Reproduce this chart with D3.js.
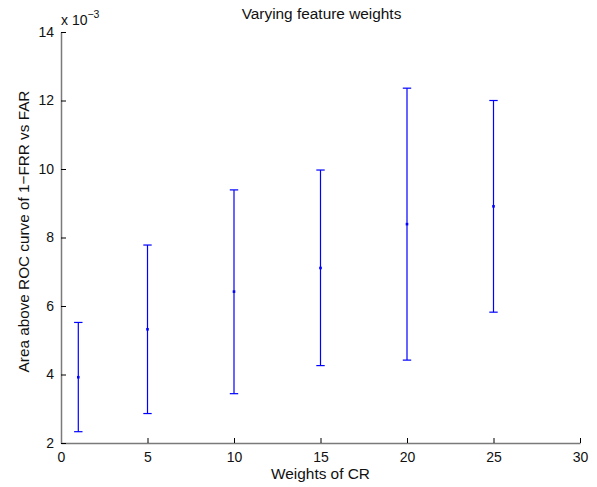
<!DOCTYPE html>
<html>
<head>
<meta charset="utf-8">
<script src="https://cdn.jsdelivr.net/npm/d3@7"></script>
<style>
  body { margin: 0; background: #fff; }
  svg { display: block; font-family: "Liberation Sans", Arial, sans-serif; }
</style>
</head>
<body>
<svg id="chart"></svg>
<script>
// values are in units of 1e-3
const weights = [1, 5, 10, 15, 20, 25];
const means   = [3.92, 5.32, 6.42, 7.11, 8.39, 8.91];
const upper   = [5.52, 7.78, 9.39, 9.97, 12.36, 12.00];
const lower   = [2.33, 2.86, 3.44, 4.26, 4.42, 5.82];
const xTicks  = [0, 5, 10, 15, 20, 25, 30];
const yTicks  = [2, 4, 6, 8, 10, 12, 14];

const width = 597, height = 487;
const margin = {top: 32, right: 17, bottom: 44, left: 61};

const svg = d3.select("#chart")
  .attr("width", width)
  .attr("height", height);

const x = d3.scaleLinear().domain([0, 30]).range([margin.left, width - margin.right]);
const y = d3.scaleLinear().domain([2, 14]).range([height - margin.bottom, margin.top]);

// axes (MATLAB style, ticks pointing inward)
const xAxis = svg.append("g")
  .attr("transform", `translate(0,${height - margin.bottom})`)
  .call(d3.axisBottom(x).tickValues(xTicks).tickSizeInner(-5).tickSizeOuter(0).tickPadding(9));
const yAxis = svg.append("g")
  .attr("transform", `translate(${margin.left},0)`)
  .call(d3.axisLeft(y).tickValues(yTicks).tickSizeInner(-5).tickSizeOuter(0).tickPadding(7));

[xAxis, yAxis].forEach(g => {
  g.select(".domain").attr("stroke", "#7a7a7a").attr("stroke-width", 1.5);
  g.selectAll(".tick line").attr("stroke", "#000");
  g.selectAll(".tick text").attr("font-size", 14).attr("fill", "#111")
    .attr("font-family", "Liberation Sans, Arial, sans-serif");
});

// error bars
const bars = svg.append("g").attr("stroke", "#0000ff").attr("stroke-width", 1.2);
const cap = 4.2;
weights.forEach((w, i) => {
  bars.append("line")
    .attr("x1", x(w)).attr("x2", x(w))
    .attr("y1", y(lower[i])).attr("y2", y(upper[i]));
  [lower[i], upper[i]].forEach(v => {
    bars.append("line")
      .attr("x1", x(w) - cap).attr("x2", x(w) + cap)
      .attr("y1", y(v)).attr("y2", y(v));
  });
});

svg.append("g").attr("fill", "#0000ff")
  .selectAll("rect")
  .data(weights)
  .join("rect")
  .attr("x", d => x(d) - 1.3)
  .attr("y", (d, i) => y(means[i]) - 1.3)
  .attr("width", 2.6)
  .attr("height", 2.6);

// labels
svg.append("text")
  .attr("x", (margin.left + width - margin.right) / 2 + 1)
  .attr("y", 19)
  .attr("text-anchor", "middle")
  .attr("font-size", 15.4)
  .attr("fill", "#111")
  .text("Varying feature weights");

svg.append("text")
  .attr("x", (margin.left + width - margin.right) / 2)
  .attr("y", 479)
  .attr("text-anchor", "middle")
  .attr("font-size", 15.4)
  .attr("fill", "#111")
  .text("Weights of CR");

svg.append("text")
  .attr("transform", `translate(28.5,231.5) rotate(-90)`)
  .attr("text-anchor", "middle")
  .attr("font-size", 15.3)
  .attr("fill", "#111")
  .text("Area above ROC curve of 1\u2212FRR vs FAR");

const exp = svg.append("text")
  .attr("x", margin.left)
  .attr("y", 25)
  .attr("font-size", 14)
  .attr("fill", "#111");
exp.append("tspan").text("x 10");
exp.append("tspan").attr("dy", -7).attr("font-size", 10.5).text("\u22123");
</script>
</body>
</html>
